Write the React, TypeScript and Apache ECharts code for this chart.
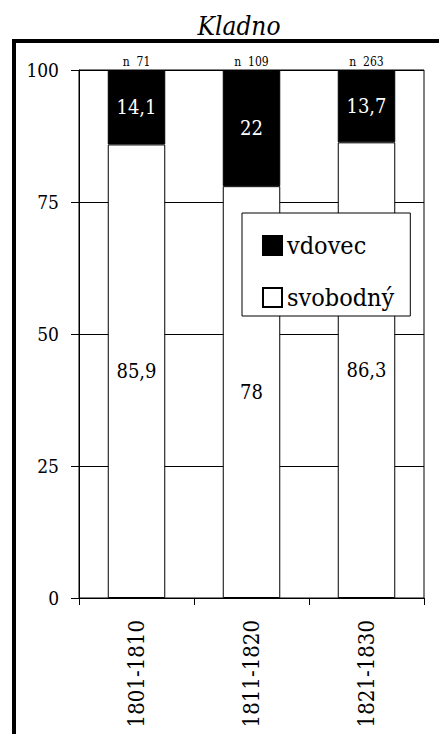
import React, { useEffect, useRef } from "react";
import * as echarts from "echarts";

const categories = ["1801-1810", "1811-1820", "1821-1830"];
const svobodny = [85.9, 78, 86.3];
const vdovec = [14.1, 22, 13.7];
const nLabels = ["n  71", "n  109", "n  263"];
const yTicks = [0, 25, 50, 75, 100];

const FONT = "DejaVu Serif Condensed, DejaVu Serif";
const fmt = (v: number) => String(v).replace(".", ",");

export default function App() {
  const ref = useRef<HTMLDivElement>(null);
  useEffect(() => {
    if (!ref.current) return;
    const chart = echarts.init(ref.current, undefined, { renderer: "svg" });
    chart.setOption({
      animation: false,
      backgroundColor: "#fff",
      textStyle: { fontFamily: FONT, color: "#000" },
      title: {
        text: "Kladno",
        left: 234,
        textAlign: "center",
        top: 8,
        textStyle: { fontFamily: FONT, fontStyle: "italic", fontWeight: "normal", fontSize: 26, color: "#000" },
      },
      graphic: [
        {
          type: "rect",
          shape: { x: 14, y: 41, width: 460, height: 720 },
          style: { fill: "none", stroke: "#000", lineWidth: 4 },
          z: 100,
        },
      ],
      grid: {
        left: 79,
        right: 15,
        top: 70,
        bottom: 136,
        show: true,
        borderColor: "#000",
        borderWidth: 1,
        backgroundColor: "transparent",
        outerBoundsMode: "none",
        containLabel: false,
      },
      legend: {
        data: ["vdovec", "svobodný"],
        orient: "vertical",
        left: 242,
        top: 213,
        backgroundColor: "#fff",
        borderColor: "#000",
        borderWidth: 1,
        padding: [20, 16, 6, 20],
        itemGap: 27,
        itemWidth: 19,
        itemHeight: 19,
        icon: "rect",
        textStyle: { fontFamily: FONT, fontSize: 25, color: "#000" },
        selectedMode: false,
        z: 10,
      },
      xAxis: {
        type: "category",
        data: categories,
        axisLine: { show: true, lineStyle: { color: "#000", width: 1 } },
        axisTick: { show: true, length: 7, lineStyle: { color: "#000" } },
        axisLabel: { rotate: 90, margin: 22, fontSize: 22, fontFamily: FONT, color: "#000" },
        splitLine: { show: false },
      },
      yAxis: {
        type: "value",
        min: yTicks[0],
        max: yTicks[yTicks.length - 1],
        interval: 25,
        axisLine: { show: true, lineStyle: { color: "#000", width: 1 } },
        axisTick: { show: true, length: 8, lineStyle: { color: "#000" } },
        axisLabel: { margin: 20, fontSize: 19, fontFamily: FONT, color: "#000" },
        splitLine: { show: true, lineStyle: { color: "#000", width: 1 } },
      },
      series: [
        {
          name: "svobodný",
          type: "bar",
          stack: "s",
          barWidth: "50%",
          data: svobodny,
          itemStyle: { color: "#fff", borderColor: "#000", borderWidth: 1 },
          label: {
            show: true,
            position: "inside",
            formatter: (p: any) => fmt(p.value),
            fontSize: 20,
            fontFamily: FONT,
            color: "#000",
          },
        },
        {
          name: "vdovec",
          type: "bar",
          stack: "s",
          barWidth: "50%",
          data: vdovec,
          itemStyle: { color: "#000", borderColor: "#000", borderWidth: 1 },
          label: {
            show: true,
            position: "inside",
            formatter: (p: any) => fmt(p.value),
            fontSize: 20,
            fontFamily: FONT,
            color: "#fff",
          },
        },
        {
          name: "n",
          type: "bar",
          stack: "s",
          barWidth: "50%",
          data: [0, 0, 0],
          itemStyle: { color: "transparent" },
          label: {
            show: true,
            position: "top",
            distance: 2,
            formatter: (p: any) => nLabels[p.dataIndex],
            fontSize: 12,
            fontFamily: FONT,
            color: "#000",
          },
        },
      ],
    });
    return () => chart.dispose();
  }, []);
  return (
    <div
      ref={ref}
      style={{ position: "absolute", left: 0, top: 0, width: 439, height: 734 }}
    />
  );
}
